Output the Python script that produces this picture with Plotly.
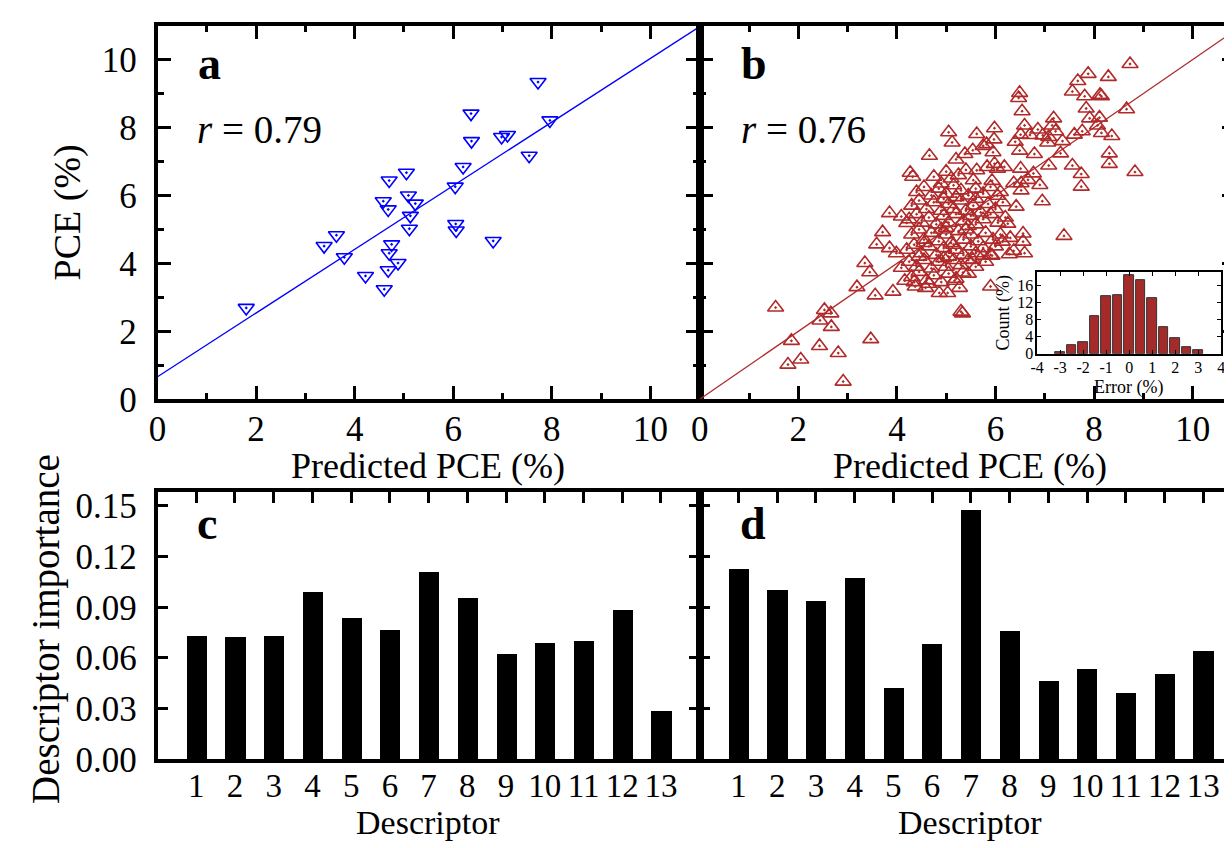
import plotly.graph_objects as go

# ---------------- data ----------------
# panel a: test set (predicted PCE, PCE)
a_pred = [1.80, 3.38, 3.63, 3.79, 4.22, 4.60, 4.58, 4.68, 4.70, 4.75, 4.70, 4.68, 4.88,
          5.05, 5.09, 5.23, 5.13, 5.11, 6.04, 6.20, 6.05, 6.06, 6.36, 6.37, 6.81, 6.98,
          7.10, 7.54, 7.72, 7.96]
a_pce = [2.69, 4.51, 4.83, 4.18, 3.63, 3.24, 5.83, 5.59, 6.44, 4.56, 4.30, 3.80, 4.01,
         6.67, 6.00, 5.76, 5.40, 5.02, 6.26, 6.84, 5.16, 4.97, 8.41, 7.60, 4.66, 7.72,
         7.78, 7.17, 9.34, 8.21]
a_fit = [0.665, 0.937]   # intercept, slope
a_r = "0.79"

# panel b: training set (predicted PCE, PCE)
b_pred = [1.54, 1.86, 1.79, 2.05, 2.43, 2.53, 2.66, 2.44, 2.67, 2.81, 2.91, 3.47, 3.19, 3.56,
          3.35, 3.45, 3.92, 4.66, 5.05, 5.12, 5.30, 5.33, 5.90, 7.39, 8.83, 8.73, 8.66, 7.88,
          7.67, 8.29, 7.56, 7.81, 8.12, 8.15, 7.84, 7.91, 8.11, 8.07, 8.15, 8.36, 7.76, 7.60,
          8.31, 8.31, 7.56, 7.74, 7.74, 7.32, 7.08, 6.95, 6.49, 6.47, 6.54, 6.59, 6.51, 6.40,
          6.49, 6.79, 6.86, 6.70, 6.96, 7.06, 7.18, 7.15, 7.22, 7.36, 7.08, 5.98, 5.62, 5.97,
          5.75, 5.38, 5.54, 5.82, 5.95, 5.20, 5.62, 5.83, 5.98, 6.18, 6.04, 6.51, 5.93, 6.37,
          6.52, 6.66, 6.77, 6.90, 6.52, 6.04, 6.42, 6.25, 6.56, 6.56, 6.59, 6.37, 6.28, 6.14,
          5.93, 5.75, 5.54, 5.34, 5.17, 5.27, 5.03, 4.86, 4.58, 4.37, 4.16, 4.27, 4.32, 3.85,
          4.09, 4.20, 3.71, 3.59, 3.85, 3.99, 4.09,
          4.75, 5.00, 5.10, 5.25, 5.40, 4.90, 5.55,
          4.40, 4.55, 4.70, 4.85, 5.00, 5.15, 5.30, 5.45, 5.60, 5.75, 5.90, 6.10, 5.20,
          4.30, 4.45, 4.60, 4.75, 4.90, 5.05, 5.15, 5.30, 5.40, 5.55, 5.70, 5.85, 6.00, 6.15,
          4.95, 5.60,
          4.25, 4.40, 4.50, 4.65, 4.80, 4.95, 5.05, 5.20, 5.35, 5.50, 5.60, 5.75, 5.90, 6.05,
          6.20, 5.00, 5.45,
          4.30, 4.45, 4.55, 4.70, 4.85, 5.00, 5.10, 5.25, 5.35, 5.50, 5.65, 5.80, 5.95, 6.10,
          6.30, 4.90, 5.40,
          4.20, 4.35, 4.50, 4.65, 4.80, 4.95, 5.05, 5.20, 5.35, 5.50, 5.60, 5.75, 5.90, 6.00,
          4.55, 5.15,
          4.25, 4.40, 4.55, 4.70, 4.85, 5.00, 5.15, 5.30, 5.45, 5.60, 5.80, 4.45, 4.95,
          4.30, 4.45, 4.60, 4.75, 4.90, 5.05, 5.20, 5.45, 4.35, 4.65]
b_pce = [2.70, 1.72, 1.02, 1.17, 1.57, 2.63, 2.53, 2.32, 2.13, 1.36, 0.52, 1.77, 3.30, 3.06,
         4.01, 3.74, 3.17, 7.17, 7.86, 7.56, 2.58, 2.53, 3.32, 4.81, 6.69, 9.87, 8.54, 9.58,
         9.37, 9.49, 9.06, 8.92, 8.96, 8.92, 8.56, 8.27, 8.29, 8.06, 7.84, 7.75, 7.89, 7.79,
         7.24, 6.93, 6.88, 6.63, 6.26, 7.24, 6.88, 5.83, 9.02, 8.87, 8.48, 8.06, 7.79, 7.58,
         7.32, 7.22, 7.94, 7.78, 7.77, 7.56, 8.27, 8.06, 7.89, 7.60, 7.72, 7.98, 7.81, 7.65,
         7.46, 7.22, 7.33, 7.51, 7.27, 7.06, 6.74, 6.84, 6.93, 6.84, 6.79, 6.79, 6.43, 6.36,
         6.36, 6.46, 6.65, 6.31, 6.15, 5.99, 5.67, 5.17, 4.88, 4.64, 4.30, 4.37, 4.27, 4.64,
         4.23, 4.23, 4.11, 3.73, 3.49, 3.28, 3.13, 3.13, 3.28, 3.32, 3.49, 6.67, 6.55, 5.48,
         5.38, 5.19, 4.92, 4.56, 4.45, 4.30, 3.87,
         6.55, 6.70, 6.50, 6.60, 6.75, 6.35, 6.45,
         6.10, 6.25, 6.00, 6.20, 6.05, 6.30, 6.15, 6.00, 6.20, 6.05, 6.25, 6.10, 5.95,
         5.70, 5.85, 5.60, 5.80, 5.55, 5.75, 5.60, 5.85, 5.55, 5.70, 5.50, 5.75, 5.60, 5.80,
         5.90, 5.90,
         5.30, 5.45, 5.20, 5.35, 5.15, 5.40, 5.20, 5.45, 5.25, 5.40, 5.15, 5.30, 5.45, 5.20,
         5.35, 5.05, 5.10,
         4.85, 5.00, 4.70, 4.90, 4.65, 4.85, 4.60, 4.95, 4.70, 4.85, 4.65, 4.90, 4.70, 4.85,
         4.75, 5.00, 5.00,
         4.40, 4.55, 4.30, 4.50, 4.25, 4.45, 4.20, 4.40, 4.25, 4.50, 4.30, 4.45, 4.25, 4.50,
         4.60, 4.55,
         4.05, 3.90, 4.10, 3.85, 4.05, 3.90, 4.10, 3.95, 4.10, 3.90, 4.05, 4.20, 4.15,
         3.60, 3.75, 3.50, 3.65, 3.45, 3.70, 3.55, 3.70, 3.45, 3.40]
b_r = "0.76"

# inset: error histogram of panel b
err_bins = [-3.0, -2.5, -2.0, -1.5, -1.0, -0.5, 0.0, 0.5, 1.0, 1.5, 2.0, 2.5, 3.0]
err_count = [0.4, 1.9, 2.6, 8.7, 13.4, 13.8, 18.4, 17.3, 13.0, 6.2, 3.7, 1.5, 0.8]
err_ticks = [-4, -3, -2, -1, 0, 1, 2, 3, 4]
err_ticktext = ["-4", "-3", "-2", "-1", "0", "1", "2", "3", "4"]

# panels c, d: descriptor importance
descriptors = list(range(1, 14))
imp_c = [0.0728, 0.0722, 0.0728, 0.0987, 0.0832, 0.0761, 0.1108, 0.0953, 0.0620, 0.0689,
         0.0699, 0.0881, 0.0284]
imp_d = [0.1125, 0.1001, 0.0937, 0.1068, 0.0419, 0.0682, 0.1475, 0.0759, 0.0463, 0.0534,
         0.0390, 0.0503, 0.0638]

# ---------------- figure ----------------
W, H = 1232, 848
FONT = "Liberation Serif, Times New Roman, Times, serif"
BLUE = "#0000ff"
RED = "#b02a2a"


def px_x(p):
    return p / W


def px_y(p):
    return 1 - p / H


fig = go.Figure()

# panel a
fig.add_trace(go.Scatter(x=[0, 11], y=[a_fit[0], a_fit[0] + a_fit[1] * 11], mode="lines",
                         line=dict(color=BLUE, width=1.3), xaxis="x", yaxis="y",
                         showlegend=False, hoverinfo="skip"))
fig.add_trace(go.Scatter(x=a_pred, y=a_pce, mode="markers", xaxis="x", yaxis="y",
                         marker=dict(symbol="triangle-down-open-dot", size=14,
                                     color=BLUE, line=dict(width=1.6, color=BLUE)),
                         showlegend=False))
# panel b
fig.add_trace(go.Scatter(x=[0, 11], y=[0, 11], mode="lines",
                         line=dict(color=RED, width=1.3), xaxis="x2", yaxis="y2",
                         showlegend=False, hoverinfo="skip"))
fig.add_trace(go.Scatter(x=b_pred, y=b_pce, mode="markers", xaxis="x2", yaxis="y2",
                         marker=dict(symbol="triangle-up-open-dot", size=14,
                                     color=RED, line=dict(width=1.6, color=RED)),
                         showlegend=False))
# inset
fig.add_trace(go.Bar(x=err_bins, y=err_count, width=0.43, xaxis="x5", yaxis="y5",
                     marker=dict(color="#a52a2a", line=dict(color="#333333", width=1)),
                     showlegend=False))
# panels c, d
fig.add_trace(go.Bar(x=descriptors, y=imp_c, width=0.52, xaxis="x3", yaxis="y3",
                     marker=dict(color="black", line=dict(width=0)), showlegend=False))
fig.add_trace(go.Bar(x=descriptors, y=imp_d, width=0.52, xaxis="x4", yaxis="y4",
                     marker=dict(color="black", line=dict(width=0)), showlegend=False))

tickfont = dict(family=FONT, size=35, color="black")
tickfont_small = dict(family=FONT, size=33, color="black")
base = dict(showline=True, linecolor="black", linewidth=3.5, mirror="allticks",
            ticks="inside", ticklen=14, tickwidth=2.5, tickcolor="black",
            showgrid=False, zeroline=False, tickfont=tickfont, tickangle=0)
minor1 = dict(ticks="inside", ticklen=7, tickwidth=2.5, tickcolor="black",
              dtick=1, tick0=0, showgrid=False)

xa_dom = [px_x(142), px_x(690)]
xb_dom = [px_x(690), 1.0]
ytop_dom = [px_y(398), px_y(13)]
ybot_dom = [px_y(769), px_y(494)]
imp_ticks = [0, 0.03, 0.06, 0.09, 0.12, 0.15]

fig.update_layout(
    width=W, height=H, autosize=False,
    margin=dict(l=0, r=0, t=0, b=0),
    paper_bgcolor="white", plot_bgcolor="white",
    bargap=0,
    xaxis=dict(base, domain=xa_dom, range=[0, 11], dtick=2, tick0=0, minor=minor1,
               anchor="y", ticklabelstandoff=-4),
    yaxis=dict(base, domain=ytop_dom, range=[0, 11], dtick=2, tick0=0, minor=minor1,
               anchor="x", ticklabelstandoff=10),
    xaxis2=dict(base, domain=xb_dom, range=[0, 11 * 542 / 548], dtick=2, tick0=0,
                minor=minor1, anchor="y2", ticklabelstandoff=-4),
    yaxis2=dict(base, domain=ytop_dom, range=[0, 11], dtick=2, tick0=0, minor=minor1,
                showticklabels=False, anchor="x2"),
    xaxis3=dict(base, domain=xa_dom, range=[0, 14], tickvals=descriptors,
                ticklen=11, anchor="y3", ticklabelstandoff=-6, tickfont=tickfont_small),
    yaxis3=dict(base, domain=ybot_dom, range=[0, 0.158], tickvals=imp_ticks,
                tickformat=".2f", ticklen=11, anchor="x3", ticklabelstandoff=10),
    xaxis4=dict(base, domain=xb_dom, range=[0, 14 * 542 / 548], tickvals=descriptors,
                ticklen=11, anchor="y4", ticklabelstandoff=-6, tickfont=tickfont_small),
    yaxis4=dict(base, domain=ybot_dom, range=[0, 0.158], tickvals=imp_ticks,
                showticklabels=False, ticklen=11, anchor="x4"),
    xaxis5=dict(showline=True, linecolor="black", linewidth=1.5, mirror="allticks",
                ticks="inside", ticklen=4, tickwidth=1, tickcolor="black",
                showgrid=False, zeroline=False, range=[-4, 4],
                tickvals=err_ticks, ticktext=err_ticktext,
                tickfont=dict(family=FONT, size=16, color="black"), tickangle=0,
                domain=[px_x(1031), px_x(1217)], anchor="y5", ticklabelstandoff=-2),
    yaxis5=dict(showline=True, linecolor="black", linewidth=1.5, mirror="allticks",
                ticks="inside", ticklen=4, tickwidth=1, tickcolor="black",
                showgrid=False, zeroline=False, range=[0, 19.1], tickvals=[0, 4, 8, 12, 16],
                tickfont=dict(family=FONT, size=16, color="black"),
                domain=[px_y(351), px_y(267)], anchor="x5", ticklabelstandoff=-1),
)


def ann(text, x, y, size, xanchor="center", angle=0, bold=False):
    if bold:
        text = "<b>" + text + "</b>"
    fig.add_annotation(text=text, x=px_x(x), y=px_y(y), xref="paper", yref="paper",
                       xanchor=xanchor, yanchor="middle", showarrow=False,
                       textangle=angle, font=dict(family=FONT, size=size, color="black"))


ann("a", 181, 52, 46, xanchor="left", bold=True)
ann("b", 730, 52, 46, xanchor="left", bold=True)
ann("c", 180, 526, 46, xanchor="left", bold=True)
ann("d", 729, 526, 46, xanchor="left", bold=True)
ann("<i>r</i> = " + a_r, 180, 120, 39, xanchor="left")
ann("<i>r</i> = " + b_r, 730, 120, 39, xanchor="left")
ann("Predicted PCE (%)", 415, 467, 36)
ann("Predicted PCE (%)", 963, 467, 36)
ann("PCE (%)", 52, 205, 38, angle=-90)
ann("Descriptor importance", 30, 635, 39, angle=-90)
ann("Descriptor", 415, 834, 34)
ann("Descriptor", 963, 834, 34)
ann("Count (%)", 997, 308, 18, angle=-90)
ann("Error (%)", 1123, 386, 18)

fig.write_html("out.html")
